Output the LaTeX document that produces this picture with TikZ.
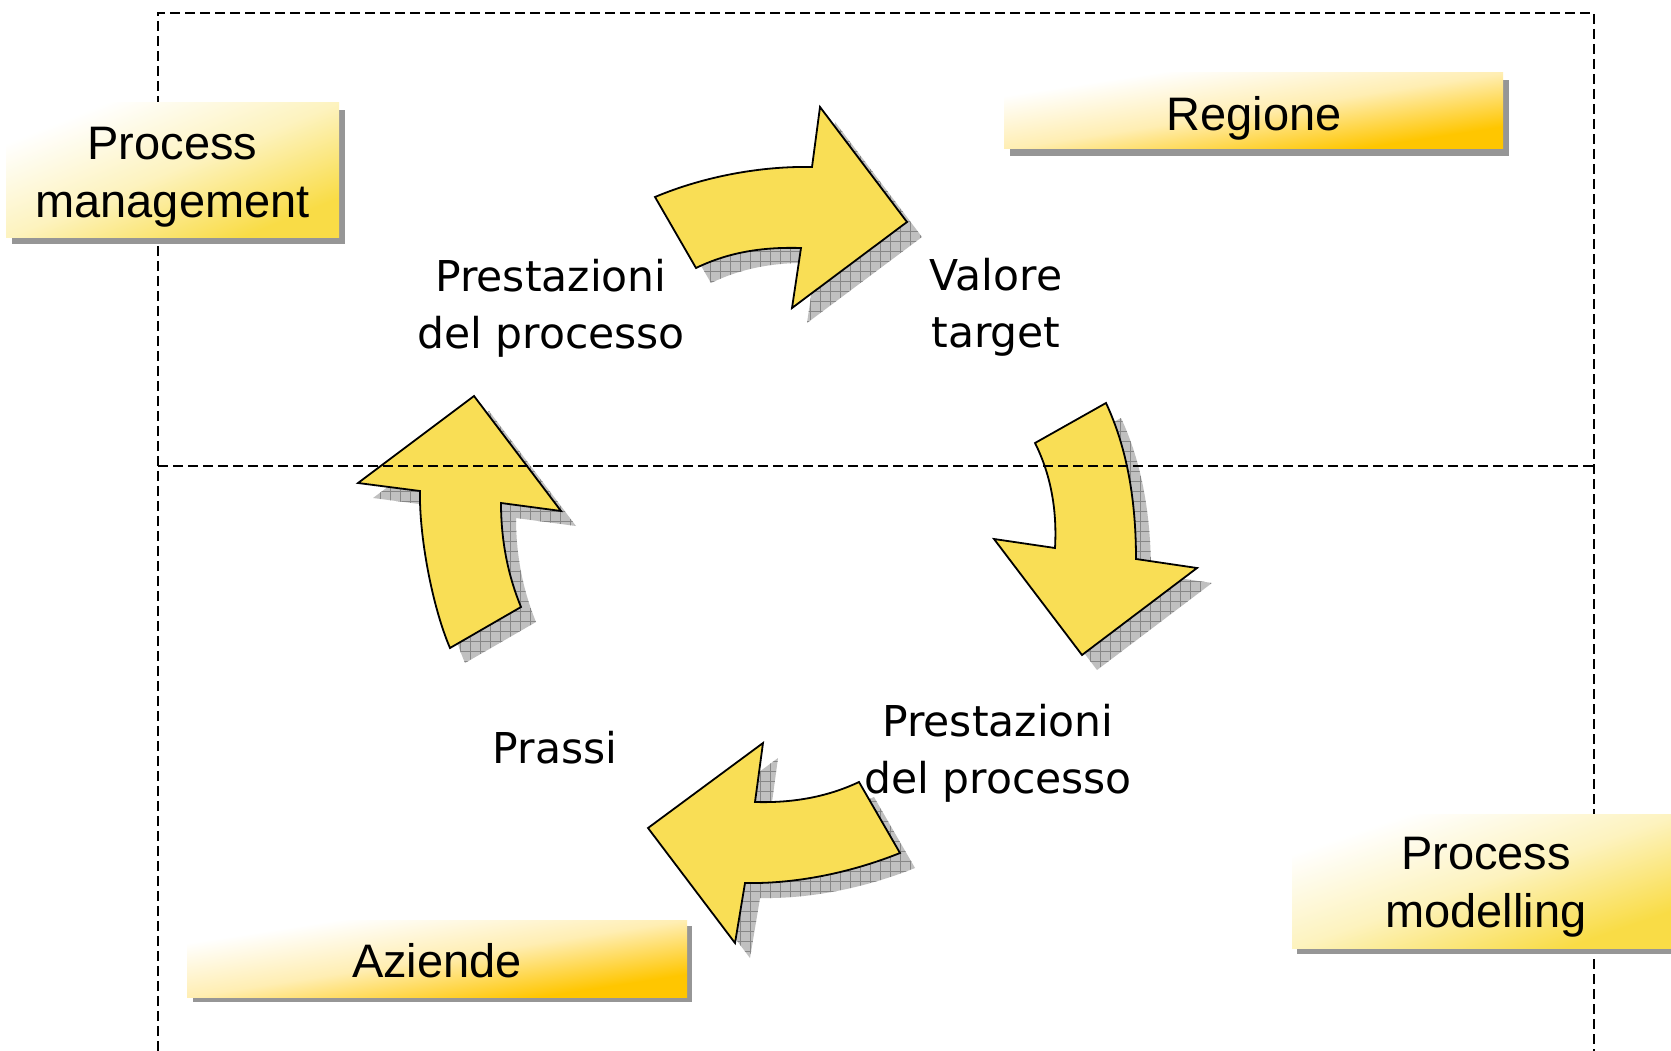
\documentclass[tikz,border=0pt]{standalone}
\usepackage{fontspec}
\setmainfont{Liberation Sans}
\newfontfamily\lblfont{DejaVu Sans}
\usetikzlibrary{patterns.meta}
\definecolor{arrowyellow}{RGB}{249,222,85}
\definecolor{goldA}{RGB}{255,198,0}
\definecolor{goldB}{RGB}{249,220,70}
\definecolor{boxshadow}{RGB}{150,150,150}
\definecolor{shadowfill}{RGB}{192,192,192}
\definecolor{shadowgrid}{RGB}{135,135,135}
\newcommand{\cyclearrow}[1]{%
  \fill[shadowfill, shift={(15,15)}] #1;
  \path[shift={(15,15)}, pattern={Lines[angle=0,distance=10pt,line width=0.8pt]}, pattern color=shadowgrid] #1;
  \path[shift={(15,15)}, pattern={Lines[angle=90,distance=10pt,line width=0.8pt]}, pattern color=shadowgrid] #1;
  \filldraw[arrowbody] #1;
}
% #1 style, #2 #3 top-left corner, #4 #5 scale factors (width/100, height/100)
\newcommand{\gradbox}[5]{%
  \shade[#1, transform canvas={shift={(#2,#3)}, xscale=#4, yscale=#5}] (0,0) rectangle (100,100);
}
\begin{document}
\begin{tikzpicture}[x=1pt,y=-1pt,
  frame/.style={draw=black, line width=1.4pt, dash pattern=on 10pt off 5pt},
  arrowbody/.style={fill=arrowyellow, draw=black, line width=1.8pt, line join=miter},
  boxtext/.style={font=\fontsize{47}{58}\selectfont, inner sep=0pt, align=center},
  lbl/.style={font=\lblfont\fontsize{42.5}{57}\selectfont, inner sep=0pt, align=center},
  wideshade/.style={top color=white, bottom color=goldA, middle color=goldA!30!white, shading angle=45},
  tallshade/.style={top color=white, bottom color=goldB, middle color=goldB!35!white, shading angle=45}]
\useasboundingbox (0,0) rectangle (1671,1051);
\fill[white] (0,0) rectangle (1671,1051);

% cycle arrows
\cyclearrow{(655,197) -- (696,268) .. controls (731,251) and (766,247) .. (801,248) -- (792,308) -- (907,222) -- (820,107) -- (812,167) .. controls (762,166) and (705,176) .. (655,197) -- cycle}
\cyclearrow{(1106,403) -- (1035,443) .. controls (1052,477) and (1057,513) .. (1055,548) -- (994,539) -- (1082,655) -- (1197,568) -- (1136,559) .. controls (1136,500) and (1127,448) .. (1106,403) -- cycle}
\cyclearrow{(859,782) .. controls (825,798) and (790,803) .. (755,802) -- (763,743) -- (648,828) -- (735,943) -- (745,883) .. controls (795,884) and (850,873) .. (900,853) -- cycle}
\cyclearrow{(450,648) -- (521,607) .. controls (507,573) and (501,538) .. (501,503) -- (561,511) -- (474,396) -- (358,483) -- (420,491) .. controls (419,535) and (432,606) .. (450,648) -- cycle}

% dashed frame
\coordinate (tl) at (158,13);
\coordinate (tr) at (1594,13);
\coordinate (bl) at (158,1051);
\coordinate (br) at (1594,1051);
\coordinate (ml) at (158,466);
\coordinate (mr) at (1594,466);
\draw[frame] (bl) -- (tl) -- (tr) -- (br);
\draw[frame] (ml) -- (mr);

% boxes
\fill[boxshadow] (12,110) rectangle (345,244);
\gradbox{tallshade}{6}{103}{3.33}{1.35}
\fill[boxshadow] (1010,80) rectangle (1509,156);
\gradbox{wideshade}{1004}{73}{4.99}{0.76}
\fill[boxshadow] (1297,820) rectangle (1686,954);
\gradbox{tallshade}{1292}{814}{3.88}{1.34}
\fill[boxshadow] (193,926) rectangle (692,1002);
\gradbox{wideshade}{187}{920}{5.00}{0.77}

\node[boxtext] (pm) at (172.5,177) {Process\\management};
\node[boxtext, anchor=base] (reg) at (1254,131) {Regione};
\node[boxtext] (pmod) at (1486,887) {Process\\modelling};
\node[boxtext, anchor=base] (az) at (437,977) {Aziende};

% cycle labels
\node[lbl] (pp1) at (551,308) {Prestazioni\\del processo};
\node[lbl] (vt) at (996,307.5) {Valore\\target};
\node[lbl] (pp2) at (998,753.5) {Prestazioni\\del processo};
\node[lbl, anchor=base] (pr) at (555,763) {Prassi};
\end{tikzpicture}
\end{document}
